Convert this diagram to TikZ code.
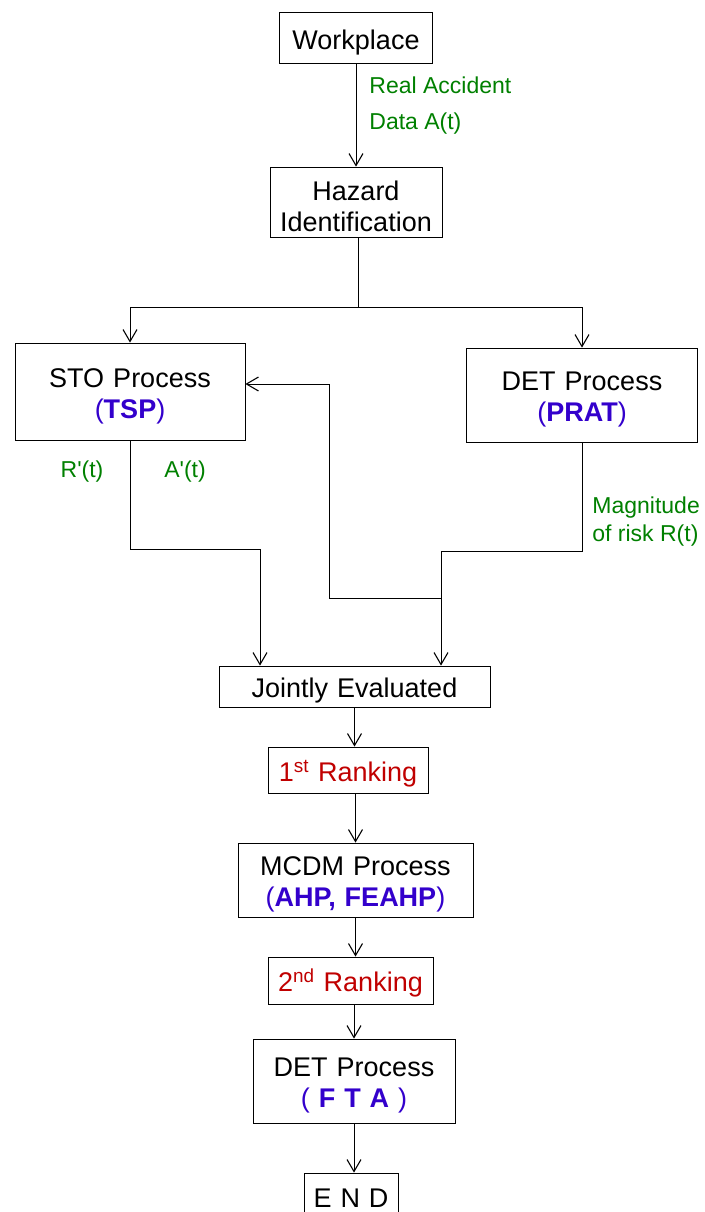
\documentclass[tikz,border=0pt]{standalone}
\usepackage{fontspec}
\setmainfont{Liberation Sans}
\usetikzlibrary{arrows.meta}
\definecolor{lblgreen}{RGB}{0,128,0}
\definecolor{abbrblue}{RGB}{51,0,204}
\definecolor{rankred}{RGB}{192,0,0}
\begin{document}
\begin{tikzpicture}[x=1pt,y=-1pt,line width=0.8pt,
    box/.style={draw,inner sep=0pt,align=center,font=\fontsize{27}{31}\selectfont,
      execute at begin node={\rule{0pt}{28pt}}},
    lbl/.style={text=lblgreen,inner sep=0pt,align=left,font=\fontsize{23}{28}\selectfont},
    arr/.style={-{Straight Barb[length=12pt,width=14pt,line width=1.1pt]}}]
  \useasboundingbox (0,0) rectangle (704,1212);
  \node[box,text width=153pt,minimum height=51pt] (work) at (356,38) {Workplace};
  \node[box,text width=172pt,minimum height=70pt] (haz) at (356,202) {Hazard\\Identification};
  \node[box,text width=230pt,minimum height=97pt] (sto) at (130,391.5) {STO Process\\\textcolor{abbrblue}{(\textbf{TSP})}};
  \node[box,text width=231pt,minimum height=94pt] (det) at (582,395) {DET Process\\\textcolor{abbrblue}{(\textbf{PRAT})}};
  \node[box,text width=271pt,minimum height=41pt] (joint) at (354.5,686.5) {Jointly Evaluated};
  \node[box,text width=160pt,minimum height=46pt,text=rankred] (rank1) at (348,770) {1\textsuperscript{st} Ranking};
  \node[box,text width=235pt,minimum height=74pt] (mcdm) at (355.5,880) {MCDM Process\\\textcolor{abbrblue}{(\textbf{AHP, FEAHP})}};
  \node[box,text width=165pt,minimum height=47pt,text=rankred] (rank2) at (350.5,980.5) {2\textsuperscript{nd} Ranking};
  \node[box,text width=202pt,minimum height=84pt] (fta) at (354,1081) {DET Process\\\textcolor{abbrblue}{( \textbf{F T A} )}};
  \node[box,text width=94pt,minimum height=40pt] (end) at (351,1193) {E N D};

  \node[lbl,anchor=west,font=\fontsize{23}{36}\selectfont] (acc) at (369,106) {Real Accident\\Data A(t)};
  \node[lbl] (rp) at (82,472) {R\textquotesingle(t)};
  \node[lbl] (ap) at (185,472) {A\textquotesingle(t)};
  \node[lbl,anchor=west] (mag) at (592,522) {Magnitude\\of risk R(t)};

  \coordinate (split) at (358,307);
  \coordinate (jl) at (260,549);
  \coordinate (jr) at (441,551);
  \coordinate (fb) at (441,598);
  \coordinate (fbup) at (329,384);

  \draw[arr] (work.south) -- (work.south |- haz.north);
  \draw (haz.south -| split) -- (split);
  \draw[arr] (split) -| (sto.north);
  \draw[arr] (split) -| (det.north);
  \draw[arr] (sto.south) |- (jl) -- (jl |- joint.north);
  \draw[arr] (det.south) |- (jr) -- (jr |- joint.north);
  \draw[arr] (fb) -| (fbup) -- (fbup -| sto.east);
  \draw[arr] (joint.south) -- (joint.south |- rank1.north);
  \draw[arr] (rank1.south -| mcdm) -- (mcdm.north);
  \draw[arr] (mcdm.south) -- (mcdm.south |- rank2.north);
  \draw[arr] (rank2.south -| fta) -- (fta.north);
  \draw[arr] (fta.south) -- (fta.south |- end.north);
\end{tikzpicture}
\end{document}
